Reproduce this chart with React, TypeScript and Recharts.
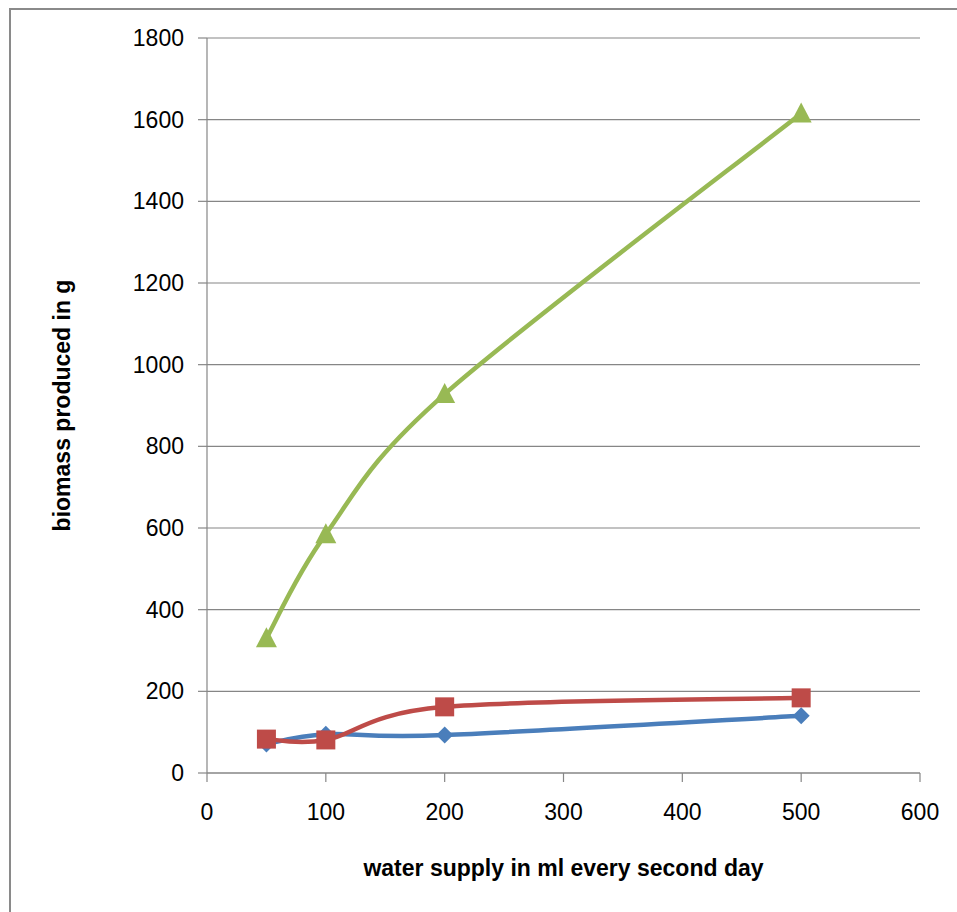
import { LineChart, Line, XAxis, YAxis, CartesianGrid } from "recharts";

// water supply (ml every second day)
const waterSupply = [50, 100, 200, 500];
// biomass produced (g) per series
const seriesBlue = [71, 95, 93, 140];
const seriesRed = [83, 81, 162, 184];
const seriesGreen = [330, 585, 928, 1615];

const xTicks = [0, 100, 200, 300, 400, 500, 600];
const yTicks = [0, 200, 400, 600, 800, 1000, 1200, 1400, 1600, 1800];

const data = waterSupply.map((w, i) => ({
  water: w,
  blue: seriesBlue[i],
  red: seriesRed[i],
  green: seriesGreen[i],
}));

const BLUE = "#4A7EBB";
const RED = "#BE4B48";
const GREEN = "#98B954";
const GRID = "#868686";
const FONT = "'Liberation Sans', Arial, sans-serif";

// smoothed line like an office spreadsheet: catmull-rom through each point
const smoothCurve = (context: any) => {
  let pts: [number, number][] = [];
  return {
    areaStart() {},
    areaEnd() {},
    lineStart() {
      pts = [];
    },
    lineEnd() {
      if (!pts.length) return;
      context.moveTo(pts[0][0], pts[0][1]);
      for (let i = 0; i < pts.length - 1; i++) {
        const p0 = pts[i - 1] || pts[i];
        const p1 = pts[i];
        const p2 = pts[i + 1];
        const p3 = pts[i + 2] || p2;
        context.bezierCurveTo(
          p1[0] + (p2[0] - p0[0]) / 6,
          p1[1] + (p2[1] - p0[1]) / 6,
          p2[0] - (p3[0] - p1[0]) / 6,
          p2[1] - (p3[1] - p1[1]) / 6,
          p2[0],
          p2[1]
        );
      }
    },
    point(x: number, y: number) {
      pts.push([+x, +y]);
    },
  };
};

const Diamond = (props: any) => {
  const { cx, cy, index } = props;
  const r = 8.5;
  return (
    <path
      key={`d-${index}`}
      d={`M${cx},${cy - r}L${cx + r},${cy}L${cx},${cy + r}L${cx - r},${cy}Z`}
      fill={BLUE}
    />
  );
};

const Square = (props: any) => {
  const { cx, cy, index } = props;
  const s = 9.5;
  return <rect key={`s-${index}`} x={cx - s} y={cy - s} width={s * 2} height={s * 2} fill={RED} />;
};

const Triangle = (props: any) => {
  const { cx, cy, index } = props;
  return (
    <path
      key={`t-${index}`}
      d={`M${cx},${cy - 11}L${cx + 10.5},${cy + 9}L${cx - 10.5},${cy + 9}Z`}
      fill={GREEN}
    />
  );
};

export default function App() {
  return (
    <div style={{ position: "absolute", left: 0, top: 0, width: 957, height: 912, background: "#fff", overflow: "hidden" }}>
      <div
        style={{
          position: "absolute",
          left: 9,
          top: 8,
          width: 1000,
          height: 1000,
          borderLeft: "2px solid #8a8a8a",
          borderTop: "2px solid #8a8a8a",
        }}
      />
      <LineChart
        width={957}
        height={912}
        data={data}
        margin={{ top: 38, right: 37, bottom: 0, left: 0 }}
        style={{ position: "absolute", left: 0, top: 0 }}
      >
        <CartesianGrid vertical={false} stroke={GRID} strokeWidth={1.2} />
        <XAxis
          dataKey="water"
          type="number"
          domain={[0, 600]}
          ticks={xTicks}
          height={139}
          stroke={GRID}
          strokeWidth={1.2}
          tickSize={9}
          tickMargin={22}
          tick={{ fill: "#000", fontSize: 23, fontFamily: FONT }}
          label={{
            value: "water supply in ml every second day",
            position: "insideBottom",
            offset: 36,
            fill: "#000",
            fontSize: 23,
            fontWeight: "bold",
            fontFamily: FONT,
          }}
        />
        <YAxis
          type="number"
          domain={[0, 1800]}
          ticks={yTicks}
          width={207}
          stroke={GRID}
          strokeWidth={1.2}
          tickSize={9}
          tickMargin={14}
          tick={{ fill: "#000", fontSize: 23, fontFamily: FONT }}
          label={{
            value: "biomass produced in g",
            angle: -90,
            position: "insideLeft",
            offset: 62,
            fill: "#000",
            fontSize: 23,
            fontWeight: "bold",
            fontFamily: FONT,
            style: { textAnchor: "middle" },
          }}
        />
        <Line
          dataKey="blue"
          type={smoothCurve as any}
          stroke={BLUE}
          strokeWidth={4.5}
          dot={Diamond}
          activeDot={false}
          isAnimationActive={false}
        />
        <Line
          dataKey="red"
          type={smoothCurve as any}
          stroke={RED}
          strokeWidth={4.5}
          dot={Square}
          activeDot={false}
          isAnimationActive={false}
        />
        <Line
          dataKey="green"
          type={smoothCurve as any}
          stroke={GREEN}
          strokeWidth={4.5}
          dot={Triangle}
          activeDot={false}
          isAnimationActive={false}
        />
      </LineChart>
    </div>
  );
}
